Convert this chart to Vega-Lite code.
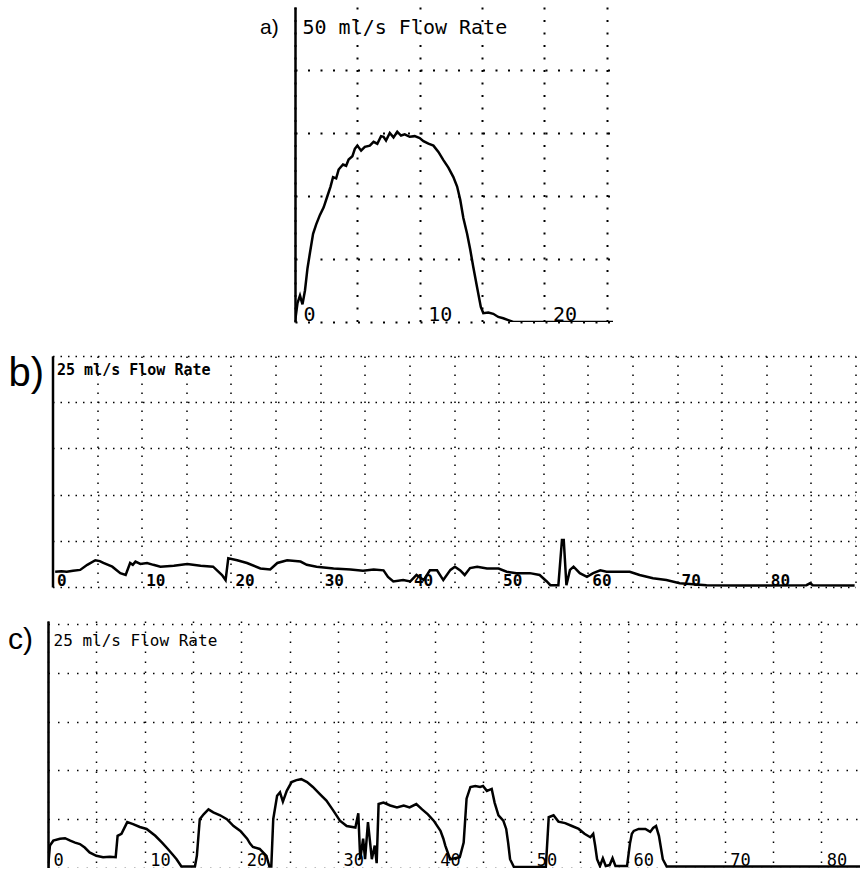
{
  "$schema": "https://vega.github.io/schema/vega-lite/v6.json",
  "autosize": {"type": "pad"},
  "padding": {"left": 8, "top": 7, "right": 0, "bottom": 0},
  "background": "white",
  "datasets": {
    "a": [
      {"t":0,"v":0},{"t":0.2,"v":3},{"t":0.4,"v":4.2},{"t":0.6,"v":2.8},{"t":0.8,"v":5},{"t":1.0,"v":8.5},{"t":1.2,"v":11},{"t":1.45,"v":14},{"t":1.7,"v":15.5},{"t":2.0,"v":17},{"t":2.3,"v":18.2},{"t":2.6,"v":20},{"t":2.85,"v":21.5},{"t":3.05,"v":23},{"t":3.3,"v":22.8},{"t":3.5,"v":24.2},{"t":3.85,"v":25},{"t":4.1,"v":24.8},{"t":4.3,"v":25.8},{"t":4.6,"v":26.3},{"t":4.8,"v":27.5},{"t":5.0,"v":28},{"t":5.3,"v":27.2},{"t":5.6,"v":27.8},{"t":6.0,"v":28},{"t":6.3,"v":28.6},{"t":6.6,"v":28.3},{"t":6.9,"v":29.5},{"t":7.1,"v":29.4},{"t":7.3,"v":28.8},{"t":7.6,"v":30},{"t":7.9,"v":29.3},{"t":8.2,"v":30.2},{"t":8.5,"v":29.6},{"t":8.8,"v":29.8},{"t":9.2,"v":29.4},{"t":9.6,"v":29.5},{"t":10.0,"v":29.2},{"t":10.3,"v":28.7},{"t":10.7,"v":28.3},{"t":11.1,"v":28},{"t":11.5,"v":27},{"t":11.9,"v":25.7},{"t":12.3,"v":24.5},{"t":12.7,"v":23},{"t":13.0,"v":21.5},{"t":13.25,"v":19.4},{"t":13.5,"v":16.5},{"t":13.8,"v":14},{"t":14.05,"v":11.5},{"t":14.3,"v":8.7},{"t":14.6,"v":5.5},{"t":14.9,"v":2.4},{"t":15.1,"v":1.4},{"t":15.5,"v":1.5},{"t":15.9,"v":1.3},{"t":16.3,"v":0.8},{"t":16.7,"v":0.6},{"t":17.1,"v":0.3},{"t":17.5,"v":0},{"t":25.5,"v":0}
    ],
    "b": [
      {"t":0.3,"v":1.65},{"t":1.0,"v":1.7},{"t":1.6,"v":1.65},{"t":2.3,"v":1.75},{"t":3.1,"v":1.85},{"t":3.9,"v":2.4},{"t":4.8,"v":2.9},{"t":5.3,"v":2.8},{"t":5.7,"v":2.6},{"t":6.7,"v":2.2},{"t":7.6,"v":1.5},{"t":8.2,"v":1.3},{"t":8.7,"v":2.6},{"t":9.0,"v":2.4},{"t":9.3,"v":2.75},{"t":9.85,"v":2.5},{"t":10.6,"v":2.6},{"t":11.3,"v":2.4},{"t":12.1,"v":2.2},{"t":13.6,"v":2.3},{"t":15.1,"v":2.5},{"t":16.6,"v":2.3},{"t":18.0,"v":2.2},{"t":19.0,"v":1.3},{"t":19.4,"v":0.75},{"t":19.7,"v":3.1},{"t":20.7,"v":2.9},{"t":21.8,"v":2.6},{"t":23.3,"v":2.0},{"t":24.4,"v":1.9},{"t":25.2,"v":2.6},{"t":26.3,"v":2.9},{"t":27.8,"v":2.75},{"t":28.5,"v":2.4},{"t":29.6,"v":2.2},{"t":31.5,"v":2.0},{"t":33.4,"v":1.9},{"t":34.8,"v":1.75},{"t":36.0,"v":1.9},{"t":37.1,"v":1.8},{"t":37.6,"v":1.1},{"t":38.2,"v":0.6},{"t":39.3,"v":0.75},{"t":40.1,"v":0.6},{"t":40.8,"v":1.3},{"t":41.6,"v":0.75},{"t":42.3,"v":1.8},{"t":43.1,"v":1.8},{"t":43.8,"v":0.75},{"t":44.6,"v":1.85},{"t":45.1,"v":2.2},{"t":45.7,"v":1.8},{"t":46.2,"v":1.3},{"t":46.8,"v":2.05},{"t":47.6,"v":2.2},{"t":48.7,"v":2.0},{"t":50.0,"v":2.0},{"t":50.9,"v":1.65},{"t":52.0,"v":1.5},{"t":53.5,"v":1.5},{"t":54.6,"v":1.3},{"t":55.4,"v":0.6},{"t":55.8,"v":0.2},{"t":56.7,"v":0.2},{"t":57.1,"v":5.1},{"t":57.3,"v":5.1},{"t":57.6,"v":0.2},{"t":58.0,"v":1.85},{"t":58.4,"v":2.2},{"t":59.1,"v":1.5},{"t":59.9,"v":1.1},{"t":60.6,"v":1.5},{"t":61.4,"v":1.8},{"t":62.1,"v":1.65},{"t":63.6,"v":1.65},{"t":64.7,"v":1.65},{"t":65.8,"v":1.3},{"t":67.3,"v":0.95},{"t":68.8,"v":0.75},{"t":70.3,"v":0.4},{"t":71.8,"v":0.3},{"t":73.3,"v":0.2},{"t":77.0,"v":0.15},{"t":84.5,"v":0.2},{"t":84.9,"v":0.4},{"t":85.2,"v":0.2},{"t":89.9,"v":0.15}
    ],
    "c": [
      {"t":0,"v":0},{"t":0.2,"v":2.3},{"t":0.55,"v":2.8},{"t":1.24,"v":3.0},{"t":1.76,"v":3.05},{"t":2.3,"v":2.8},{"t":2.8,"v":2.6},{"t":3.3,"v":2.45},{"t":3.8,"v":2.1},{"t":4.3,"v":1.6},{"t":5.0,"v":1.25},{"t":5.7,"v":1.1},{"t":6.4,"v":1.15},{"t":7.0,"v":1.1},{"t":7.2,"v":3.3},{"t":7.6,"v":3.5},{"t":8.2,"v":4.7},{"t":8.8,"v":4.5},{"t":9.5,"v":4.2},{"t":10.2,"v":4.0},{"t":11.1,"v":3.3},{"t":11.8,"v":2.6},{"t":12.4,"v":1.95},{"t":13.0,"v":1.25},{"t":13.3,"v":0.9},{"t":13.8,"v":0.15},{"t":15.2,"v":0.15},{"t":15.4,"v":1.25},{"t":15.7,"v":5.0},{"t":16.1,"v":5.5},{"t":16.6,"v":6.0},{"t":17.1,"v":5.7},{"t":17.8,"v":5.4},{"t":18.5,"v":5.0},{"t":19.2,"v":4.3},{"t":19.9,"v":3.8},{"t":20.6,"v":3.0},{"t":20.9,"v":2.5},{"t":21.2,"v":2.15},{"t":21.9,"v":1.95},{"t":22.6,"v":1.25},{"t":22.9,"v":0.15},{"t":23.1,"v":0.15},{"t":23.3,"v":5.0},{"t":23.7,"v":7.4},{"t":24.0,"v":7.75},{"t":24.3,"v":6.8},{"t":24.7,"v":7.9},{"t":25.2,"v":8.8},{"t":25.7,"v":9.0},{"t":26.2,"v":9.1},{"t":26.8,"v":8.8},{"t":27.4,"v":8.3},{"t":28.1,"v":7.6},{"t":28.8,"v":6.9},{"t":29.5,"v":5.9},{"t":30.2,"v":4.85},{"t":30.9,"v":4.3},{"t":31.8,"v":4.15},{"t":32.1,"v":5.6},{"t":32.3,"v":0.9},{"t":32.6,"v":3.0},{"t":32.8,"v":0.9},{"t":33.1,"v":4.7},{"t":33.5,"v":0.9},{"t":33.8,"v":2.3},{"t":34.0,"v":0.5},{"t":34.2,"v":6.55},{"t":34.7,"v":6.7},{"t":35.4,"v":6.4},{"t":36.1,"v":6.2},{"t":36.8,"v":6.4},{"t":37.4,"v":6.2},{"t":38.1,"v":6.55},{"t":38.7,"v":6.0},{"t":39.3,"v":5.5},{"t":39.9,"v":4.85},{"t":40.6,"v":3.8},{"t":40.9,"v":3.0},{"t":41.1,"v":2.3},{"t":41.6,"v":0.9},{"t":42.6,"v":1.1},{"t":43.0,"v":2.6},{"t":43.3,"v":7.1},{"t":43.7,"v":8.3},{"t":44.2,"v":8.4},{"t":44.7,"v":8.3},{"t":45.0,"v":8.4},{"t":45.4,"v":7.9},{"t":45.9,"v":8.1},{"t":46.2,"v":6.7},{"t":46.6,"v":5.4},{"t":47.1,"v":4.85},{"t":47.4,"v":4.0},{"t":47.6,"v":2.6},{"t":47.8,"v":0.9},{"t":48.2,"v":0.1},{"t":51.5,"v":0.1},{"t":51.8,"v":5.2},{"t":52.3,"v":5.4},{"t":52.8,"v":4.75},{"t":53.5,"v":4.6},{"t":54.2,"v":4.3},{"t":54.9,"v":4.0},{"t":55.5,"v":3.5},{"t":56.1,"v":3.15},{"t":56.4,"v":3.5},{"t":56.6,"v":2.3},{"t":56.8,"v":0.9},{"t":57.1,"v":0.2},{"t":57.4,"v":1.0},{"t":57.7,"v":0.2},{"t":58.1,"v":0.3},{"t":58.4,"v":1.0},{"t":58.7,"v":0.2},{"t":59.9,"v":0.2},{"t":60.2,"v":2.5},{"t":60.4,"v":3.5},{"t":60.6,"v":3.8},{"t":61.1,"v":4.0},{"t":61.8,"v":4.0},{"t":62.3,"v":3.7},{"t":62.6,"v":4.1},{"t":62.9,"v":4.3},{"t":63.2,"v":3.3},{"t":63.6,"v":0.9},{"t":64.0,"v":0.15},{"t":84,"v":0.15}
    ]
  },
  "vconcat": [
    {
      "width": 318,
      "height": 315,
      "data": {"name": "a"},
      "title": {"text": "a)", "orient": "top", "anchor": "start", "frame": "group", "offset": 0, "baseline": "alphabetic", "dx": -35, "dy": 48, "fontSize": 21},
      "mark": {"type": "line", "color": "black", "strokeWidth": 2.5, "clip": true},
      "encoding": {
        "x": {"field": "t", "type": "quantitative", "scale": {"domain": [0, 25.5], "nice": false, "zero": false},
          "axis": {"values": [0, 5, 10, 15, 20, 25], "domain": false, "grid": true, "gridDash": [2, 10.5], "gridWidth": 2,
            "labelExpr": "datum.value % 10 === 0 ? datum.label : ''", "labelAlign": "left", "labelOffset": 8, "labelPadding": -2,
            "labelBaseline": "alphabetic", "labelFontSize": 20, "labelFlush": false, "labelOverlap": false, "title": null}},
        "y": {"field": "v", "type": "quantitative", "scale": {"domain": [0, 50], "nice": false},
          "axis": {"values": [0, 10, 20, 30, 40], "domain": true, "domainWidth": 2.5, "labels": false, "grid": true, "gridDash": [2, 10.5], "gridWidth": 2,
            "title": "50 ml/s Flow Rate", "titleAngle": 0, "titleX": 7, "titleY": 26, "titleAlign": "left", "titleBaseline": "alphabetic", "titleFontSize": 20, "titleFontWeight": "normal"}}
      }
    },
    {
      "width": 803,
      "height": 231,
      "data": {"name": "b"},
      "title": {"text": "b)", "orient": "top", "anchor": "start", "frame": "group", "offset": 0, "baseline": "alphabetic", "dx": -44, "dy": 70, "fontSize": 40},
      "mark": {"type": "line", "color": "black", "strokeWidth": 2.5, "clip": true},
      "encoding": {
        "x": {"field": "t", "type": "quantitative", "scale": {"domain": [0, 90], "nice": false, "zero": false},
          "axis": {"values": [0, 5, 10, 15, 20, 25, 30, 35, 40, 45, 50, 55, 60, 65, 70, 75, 80, 85, 90], "domain": false, "grid": true, "gridDash": [1.5, 7.5], "gridWidth": 1.5,
            "labelExpr": "datum.value % 10 === 0 && datum.value < 90 ? datum.label : ''", "labelAlign": "left", "labelOffset": 4, "labelPadding": -2,
            "labelBaseline": "alphabetic", "labelFontSize": 16, "labelFontWeight": "bold", "labelFlush": false, "labelOverlap": false, "title": null}},
        "y": {"field": "v", "type": "quantitative", "scale": {"domain": [0, 25], "nice": false},
          "axis": {"values": [0, 5, 10, 15, 20, 25], "domain": true, "domainWidth": 2.5, "labels": false, "grid": true, "gridDash": [1.5, 6], "gridWidth": 1.5,
            "title": "25 ml/s Flow Rate", "titleAngle": 0, "titleX": 4, "titleY": 18, "titleAlign": "left", "titleBaseline": "alphabetic", "titleFontSize": 15, "titleFontWeight": "bold"}}
      }
    },
    {
      "width": 812,
      "height": 247,
      "data": {"name": "c"},
      "title": {"text": "c)", "orient": "top", "anchor": "start", "frame": "group", "offset": 0, "baseline": "alphabetic", "dx": -40, "dy": 58, "fontSize": 30},
      "mark": {"type": "line", "color": "black", "strokeWidth": 2.5, "clip": true},
      "encoding": {
        "x": {"field": "t", "type": "quantitative", "scale": {"domain": [0, 84], "nice": false, "zero": false},
          "axis": {"values": [0, 5, 10, 15, 20, 25, 30, 35, 40, 45, 50, 55, 60, 65, 70, 75, 80], "domain": false, "grid": true, "gridDash": [1.5, 8.5], "gridWidth": 1.5,
            "labelExpr": "datum.value % 10 === 0 ? datum.label : ''", "labelAlign": "left", "labelOffset": 5, "labelPadding": -3,
            "labelBaseline": "alphabetic", "labelFontSize": 17, "labelFlush": false, "labelOverlap": false, "title": null}},
        "y": {"field": "v", "type": "quantitative", "scale": {"domain": [0, 25.3], "nice": false},
          "axis": {"values": [0, 5, 10, 15, 20, 25], "domain": true, "domainWidth": 2.5, "labels": false, "grid": true, "gridDash": [1.5, 8], "gridWidth": 1.5,
            "title": "25 ml/s Flow Rate", "titleAngle": 0, "titleX": 5, "titleY": 24, "titleAlign": "left", "titleBaseline": "alphabetic", "titleFontSize": 16, "titleFontWeight": "normal"}}
      }
    }
  ],
  "spacing": 34,
  "bounds": "flush",
  "center": true,
  "config": {
    "view": {"stroke": null},
    "axis": {"gridColor": "black", "gridOpacity": 1, "domainColor": "black", "ticks": false, "tickSize": 0, "labelColor": "black", "titleColor": "black", "labelFont": "DejaVu Sans Mono", "titleFont": "DejaVu Sans Mono", "titlePadding": 0},
    "title": {"color": "black", "font": "Liberation Sans", "fontWeight": "normal"}
  }
}
